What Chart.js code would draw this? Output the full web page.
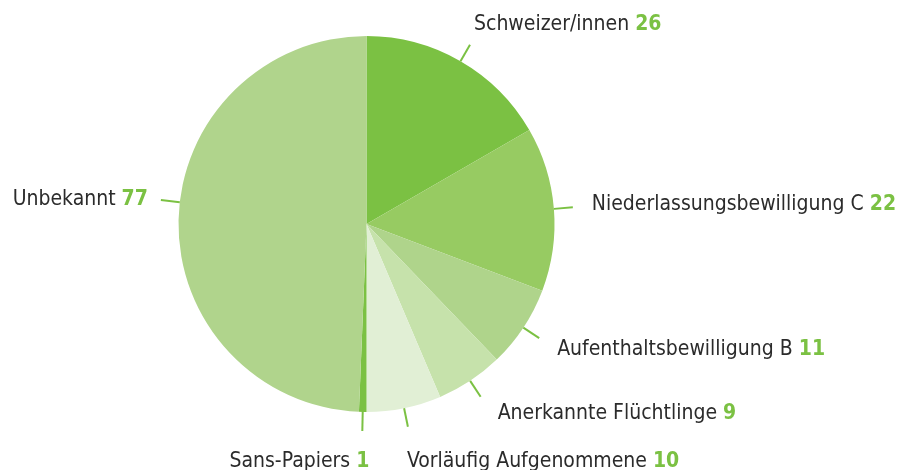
<!DOCTYPE html>
<html><head><meta charset="utf-8">
<script src="https://cdn.jsdelivr.net/npm/chart.js@4.4.0/dist/chart.umd.min.js"></script>
<style>html,body{margin:0;padding:0;background:#fff;}#wrap{width:899px;height:470px;position:relative;}</style>
</head><body><div id="wrap"><canvas id="c" width="899" height="470"></canvas></div>
<script>
const categories = ['Schweizer/innen','Niederlassungsbewilligung C','Aufenthaltsbewilligung B','Anerkannte Flüchtlinge','Vorläufig Aufgenommene','Sans-Papiers','Unbekannt'];
const values = [26,22,11,9,10,1,77];
const colors = ['#7bc143','#97cb62','#afd48b','#c6e2ab','#e1efd5','#7bc143','#b0d48c'];

// label layout: [angle offset deg, dx, dy(baseline), align]
const labelLayout = [
  [0, 4, -15, 'left'],
  [0, 19, 3, 'left'],
  [0, 18, 17, 'left'],
  [0, 17, 22, 'left'],
  [0, -1, 40, 'left'],
  [0, 7, 36, 'right'],
  [5.5, -13, 5, 'right']
];
const FONT = "'DejaVu Sans Condensed', 'DejaVu Sans', sans-serif";
const FS = 21;

const labelPlugin = {
  id: 'labels',
  afterDatasetsDraw(chart) {
    const ctx = chart.ctx;
    const meta = chart.getDatasetMeta(0);
    meta.data.forEach((arc, i) => {
      const p = arc.getProps(['x','y','startAngle','endAngle','outerRadius']);
      const L = labelLayout[i];
      const a = (p.startAngle + p.endAngle) / 2 + L[0] * Math.PI / 180;
      const r0 = p.outerRadius, r1 = p.outerRadius + 19;
      const x0 = p.x + Math.cos(a) * r0, y0 = p.y + Math.sin(a) * r0;
      const x1 = p.x + Math.cos(a) * r1, y1 = p.y + Math.sin(a) * r1;
      ctx.save();
      ctx.strokeStyle = '#7bc143';
      ctx.lineWidth = 2;
      ctx.beginPath(); ctx.moveTo(x0, y0); ctx.lineTo(x1, y1); ctx.stroke();
      const name = categories[i] + ' ';
      const num = String(values[i]);
      ctx.textBaseline = 'alphabetic';
      ctx.textAlign = 'left';
      ctx.font = FS + 'px ' + FONT;
      const wn = ctx.measureText(name).width;
      ctx.font = 'bold ' + FS + 'px ' + FONT;
      const wv = ctx.measureText(num).width;
      let tx = x1 + L[1];
      if (L[3] === 'right') tx -= (wn + wv);
      const ty = y1 + L[2];
      ctx.font = FS + 'px ' + FONT;
      ctx.fillStyle = '#2b2b2b';
      ctx.fillText(name, tx, ty);
      ctx.font = 'bold ' + FS + 'px ' + FONT;
      ctx.fillStyle = '#7bc143';
      ctx.fillText(num, tx + wn, ty);
      ctx.restore();
    });
  }
};

new Chart(document.getElementById('c'), {
  type: 'pie',
  data: { labels: categories, datasets: [{ data: values, backgroundColor: colors, borderWidth: 0, hoverOffset: 0 }] },
  options: {
    responsive: false, animation: false,
    layout: { padding: { left: 178, right: 344, top: 36, bottom: 58 } },
    plugins: { legend: { display: false }, tooltip: { enabled: false } }
  },
  plugins: [labelPlugin]
});
</script></body></html>
